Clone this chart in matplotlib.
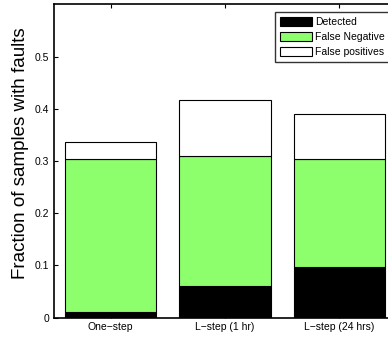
import numpy as np
import matplotlib.pyplot as plt

categories = ["One\u2212step", "L\u2212step (1 hr)", "L\u2212step (24 hrs)"]
detected = [0.010, 0.060, 0.0975]
false_negative = [0.293, 0.250, 0.206]
false_positive = [0.0325, 0.106, 0.0865]

plt.rcParams['font.family'] = ['Liberation Sans', 'DejaVu Sans']

fig = plt.figure(figsize=(3.88, 3.39), dpi=100)
ax = fig.add_axes([53.5 / 388, 21.5 / 339, 343 / 388, 313 / 339])

x = np.arange(1, len(categories) + 1)
w = 0.8
edge = dict(edgecolor='black', linewidth=0.8)
ax.bar(x, detected, w, color='black', label='Detected', **edge)
bottom2 = np.array(detected)
ax.bar(x, false_negative, w, bottom=bottom2, color='#8dff6d',
       label='False Negative', **edge)
bottom3 = bottom2 + np.array(false_negative)
ax.bar(x, false_positive, w, bottom=bottom3, color='white',
       label='False positives', **edge)

ax.set_xlim(0.5, 3.5)
ax.set_ylim(0, 0.6)
ax.set_xticks(x)
ax.set_xticklabels(categories, fontsize=7.5)
ax.set_yticks([0, 0.1, 0.2, 0.3, 0.4, 0.5])
ax.set_yticklabels(['0', '0.1', '0.2', '0.3', '0.4', '0.5'], fontsize=7.5)
ax.tick_params(direction='in', length=3, width=0.8, top=True, right=True,
               pad=3)
ax.set_ylabel('Fraction of samples with faults', fontsize=13.5)
ax.yaxis.set_label_coords(-0.072, 0.524)
for s in ax.spines.values():
    s.set_linewidth(1.2)

leg = ax.legend(loc='upper left', bbox_to_anchor=(0.646, 0.975),
                fontsize=7.5, frameon=True, fancybox=False,
                handlelength=3.1, handleheight=1.0, handletextpad=0.3,
                borderpad=0.45, labelspacing=0.45, borderaxespad=0)
leg.get_frame().set_edgecolor('black')
leg.get_frame().set_linewidth(1.0)

fig.savefig('out.png', dpi=100)
